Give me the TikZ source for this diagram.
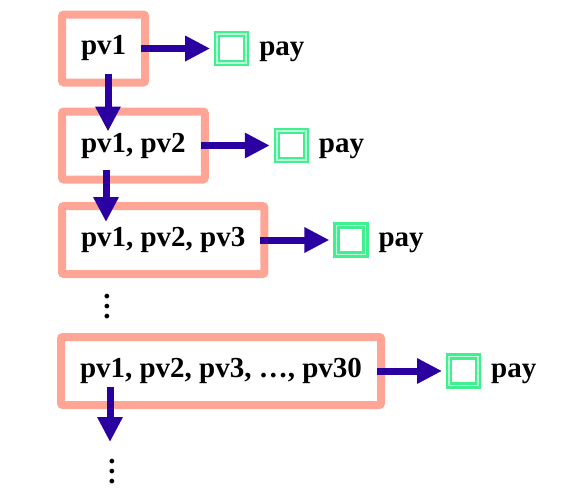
\documentclass[tikz,border=0pt]{standalone}
\usepackage{fontspec}
\setmainfont{Liberation Serif}
\usetikzlibrary{positioning,arrows.meta}
\definecolor{SalmonPink}{HTML}{FFA595}
\definecolor{DeepIndigo}{HTML}{2A00A0}
\definecolor{MintGreen}{HTML}{40F090}

\tikzset{
  pvbox/.style={draw=SalmonPink, line width=8pt, rounded corners=2pt,
                inner xsep=19pt, minimum height=68pt, anchor=west, outer sep=0pt,
                font=\fontsize{29}{34}\selectfont\bfseries},
  paybox/.style={draw=MintGreen, double=MintGreen!35, double distance=1.5pt,
                 line width=2.5pt, minimum size=29pt, inner sep=0pt, outer sep=0pt},
  paytext/.style={inner sep=0pt, font=\fontsize{29}{34}\selectfont\bfseries},
  moredots/.style={inner sep=0pt, font=\fontsize{29}{10}\selectfont\bfseries},
  flow/.style={draw=DeepIndigo, line width=7pt,
               -{Triangle[length=25pt,width=24pt]}},
}
\newcommand{\stackdots}{\vbox{\baselineskip=10pt\hbox{.}\hbox{.}\hbox{.}}}

\begin{document}
\begin{tikzpicture}[x=1pt,y=-1pt]
  \useasboundingbox (0,0) rectangle (587,490);

  % the growing lists
  \node[pvbox] (box1) at (62,48.5) {pv1};
  \node[pvbox] (box2) at (62,145.5) {pv1, pv2};
  \node[pvbox] (box3) at (62,240) {pv1, pv2, pv3};
  \node[pvbox] (box4) at (61,371) {pv1, pv2, pv3, \dots, pv30};

  % a payment after each one
  \node[paybox, right=72pt of box1] (sq1) {};
  \node[paybox, right=72pt of box2] (sq2) {};
  \node[paybox, right=72pt of box3] (sq3) {};
  \node[paybox, right=68pt of box4] (sq4) {};
  \node[paytext, right=13pt of sq1, yshift=-3pt] (pay1) {pay};
  \node[paytext, right=13pt of sq2, yshift=-3pt] (pay2) {pay};
  \node[paytext, right=13pt of sq3, yshift=-3pt] (pay3) {pay};
  \node[paytext, right=13pt of sq4, yshift=-3pt] (pay4) {pay};

  \draw[flow, shorten <=-4pt, shorten >=7pt] (box1.east) -- (sq1.west);
  \draw[flow, shorten <=-4pt, shorten >=7pt] (box2.east) -- (sq2.west);
  \draw[flow, shorten <=-4pt, shorten >=7pt] (box3.east) -- (sq3.west);
  \draw[flow, shorten <=-4pt, shorten >=7pt] (box4.east) -- (sq4.west);

  % going down
  \draw[flow] ([xshift=46pt,yshift=9pt]box1.south west)
           -- ([xshift=46pt,yshift=-20pt]box2.north west);
  \draw[flow] ([xshift=44pt,yshift=10pt]box2.south west)
           -- ([xshift=44pt,yshift=-16pt]box3.north west);
  \coordinate (next) at (110,442);
  \draw[flow] ([xshift=49pt,yshift=18pt]box4.south west) -- (next);

  \node[moredots] (gap1) at (107,307) {\stackdots};
  \node[moredots] (gap2) at (112,472) {\stackdots};
\end{tikzpicture}
\end{document}
